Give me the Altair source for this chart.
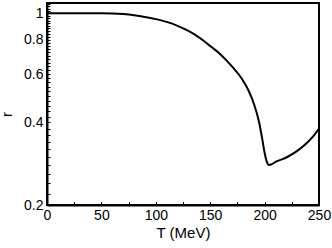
import altair as alt
import pandas as pd

# curve data
T_values = [0, 30, 50, 60, 70, 80, 90, 100, 110, 120, 130, 140, 150, 160, 170,
            180, 185, 190, 195, 198, 200, 202, 204, 206, 210, 220, 230, 240, 245, 250]
r_values = [1.0, 1.0, 1.0, 0.998, 0.993, 0.984, 0.97, 0.952, 0.93, 0.9, 0.862, 0.815,
            0.76, 0.705, 0.64, 0.57, 0.525, 0.47, 0.40, 0.345, 0.31, 0.288, 0.28, 0.281,
            0.287, 0.298, 0.315, 0.34, 0.357, 0.38]

x_domain = [0, 250]
y_domain = [0.2, 1.09]
x_ticks = [0, 25, 50, 75, 100, 125, 150, 175, 200, 225, 250]
y_ticks = [round(0.2 + 0.02 * i, 2) for i in range(45)]
x_title = "T (MeV)"
y_title = "r"

W, H = 272, 202
FONT = "Liberation Sans"

df = pd.DataFrame({"T": T_values, "r": r_values})

xs = alt.Scale(domain=x_domain, nice=False, zero=False)
ys = alt.Scale(type="log", domain=y_domain, nice=False)

x_axis = alt.Axis(
    orient="bottom", values=x_ticks,
    labelExpr="datum.value % 50 == 0 ? datum.label : ''",
    ticks=True, tickSize={"expr": "-3.5"}, tickWidth=1, tickColor="black",
    labelPadding=7, labelFlush=False, labelOverlap=False,
    labelFont=FONT, labelFontSize=14, labelColor="black",
    domain=True, domainColor="black", domainWidth=2, grid=False,
    title=x_title, titleFont=FONT, titleFontSize=15, titleFontWeight="normal",
    titleColor="black", titlePadding=3)

y_axis = alt.Axis(
    orient="left", values=y_ticks,
    labelExpr="abs(datum.value * 5 - round(datum.value * 5)) < 0.000001 ? format(datum.value, '~g') : ''",
    ticks=True, tickSize={"expr": "-3"}, tickWidth=1, tickColor="black",
    labelPadding=7, labelFlush=False, labelOverlap=False,
    labelFont=FONT, labelFontSize=14, labelColor="black",
    domain=True, domainColor="black", domainWidth=2, grid=False,
    title=y_title, titleFont=FONT, titleFontSize=15, titleFontWeight="normal",
    titleColor="black", titleX=-41, titleY=H / 2 + 10, titleAngle=270,
    titleAlign="center", titleBaseline="middle")

chart = alt.Chart(df).mark_line(color="black", strokeWidth=2, interpolate="monotone").encode(
    x=alt.X("T:Q", scale=xs, axis=x_axis),
    y=alt.Y("r:Q", scale=ys, axis=y_axis),
).properties(
    width=W, height=H,
    padding={"left": 47, "top": 3, "right": 13, "bottom": 43},
    autosize=alt.AutoSizeParams(type="none"),
    background="white",
).configure_view(stroke="black", strokeWidth=2)

chart.save("out.html", embed_options={"renderer": "svg", "actions": False})
